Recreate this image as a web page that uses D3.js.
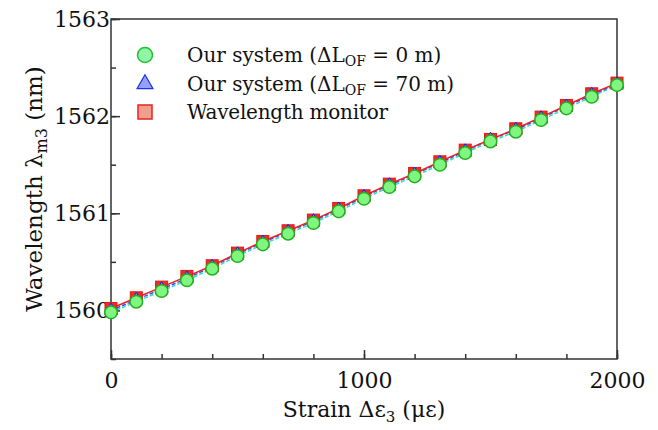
<!DOCTYPE html>
<meta charset='utf-8'>
<style>
  body { margin: 0; background: #fff; }
  text { font-family: 'DejaVu Serif', serif; fill: #111; }
  .axis path, .axis line { stroke: #333; stroke-width: 1.5; fill: none; }
</style>
<body>
<script src='https://cdn.jsdelivr.net/npm/d3@7'></script>
<script>
  // strain steps (µε)
  const strain = [0, 100, 200, 300, 400, 500, 600, 700, 800, 900, 1000,
                  1100, 1200, 1300, 1400, 1500, 1600, 1700, 1800, 1900, 2000]
  // Our system, dL = 0 m
  const sys0 = [1559.98, 1560.09, 1560.20, 1560.31, 1560.43, 1560.56, 1560.68, 1560.79, 1560.90, 1561.02, 1561.15,
                1561.27, 1561.38, 1561.50, 1561.62, 1561.74, 1561.84, 1561.96, 1562.08, 1562.20, 1562.32]
  // Our system, dL = 70 m
  const sys70 = [1560.00, 1560.11, 1560.22, 1560.33, 1560.45, 1560.58, 1560.70, 1560.81, 1560.92, 1561.04, 1561.17,
                 1561.29, 1561.40, 1561.52, 1561.64, 1561.76, 1561.86, 1561.98, 1562.10, 1562.22, 1562.33]
  // wavelength monitor
  const monitor = [1560.02, 1560.13, 1560.24, 1560.35, 1560.46, 1560.59, 1560.71, 1560.82, 1560.93, 1561.05, 1561.18,
                   1561.30, 1561.41, 1561.53, 1561.65, 1561.76, 1561.87, 1561.99, 1562.11, 1562.23, 1562.34]
  const yTicks = [1560, 1561, 1562, 1563]
  const xTicks = [0, 1000, 2000]

  const margin = {top: 19, right: 41, bottom: 71, left: 111}
  const width = 658 - margin.left - margin.right
  const height = 430 - margin.top - margin.bottom

  const x = d3.scaleLinear().domain([0, 2000]).range([0, width])
  const y = d3.scaleLinear().domain([1559.5, 1563]).range([height, 0])

  const svg = d3.select('body').append('svg')
    .attr('width', 658).attr('height', 430)
  const g = svg.append('g').attr('transform', `translate(${margin.left},${margin.top})`)

  // frame
  g.append('rect').attr('width', width).attr('height', height)
    .attr('fill', 'none').attr('stroke', '#333').attr('stroke-width', 1.5)

  // minor ticks (inward)
  g.append('g').attr('class', 'axis')
    .call(d3.axisLeft(y).tickValues(d3.range(1559.5, 1563.01, 0.5)).tickSize(-5).tickFormat(''))
  g.append('g').attr('class', 'axis').attr('transform', `translate(0,${height})`)
    .call(d3.axisBottom(x).tickValues(d3.range(0, 2001, 200)).tickSize(-5).tickFormat(''))

  // major ticks
  const yAxis = g.append('g').attr('class', 'axis')
    .call(d3.axisLeft(y).tickValues(yTicks).tickSize(-9).tickFormat(d3.format('d')))
  yAxis.selectAll('text').attr('font-size', 22).attr('x', -1)
  const xAxis = g.append('g').attr('class', 'axis').attr('transform', `translate(0,${height})`)
    .call(d3.axisBottom(x).tickValues(xTicks).tickSize(-9).tickPadding(13).tickFormat(d3.format('d')))
  xAxis.selectAll('text').attr('font-size', 22)
  g.selectAll('.axis .domain').remove()

  // lines
  const line = vals => d3.line().x((d, i) => x(strain[i])).y(d => y(d))(vals)
  g.append('path').attr('d', line(sys0)).attr('fill', 'none')
    .attr('stroke', '#30e0c0').attr('stroke-width', 1.5).attr('stroke-dasharray', '4,2')
  g.append('path').attr('d', line(sys70)).attr('fill', 'none')
    .attr('stroke', '#3050ff').attr('stroke-width', 1.5).attr('stroke-dasharray', '4,2')
  g.append('path').attr('d', line(monitor)).attr('fill', 'none')
    .attr('stroke', '#ee2020').attr('stroke-width', 1.5)

  // markers
  const sq = 12
  g.selectAll('.sq').data(monitor).join('rect')
    .attr('x', (d, i) => x(strain[i]) - sq / 2).attr('y', d => y(d) - sq / 2)
    .attr('width', sq).attr('height', sq)
    .attr('fill', '#ee2a2a').attr('stroke', '#e01818').attr('stroke-width', 1)
  const tri = d3.symbol().type(d3.symbolTriangle).size(70)
  g.selectAll('.tri').data(sys70).join('path')
    .attr('d', tri).attr('transform', (d, i) => `translate(${x(strain[i])},${y(d)})`)
    .attr('fill', '#8890ff').attr('stroke', '#1020ee').attr('stroke-width', 1)
  g.selectAll('.ci').data(sys0).join('circle')
    .attr('cx', (d, i) => x(strain[i])).attr('cy', d => y(d)).attr('r', 6.3)
    .attr('fill', '#80f580').attr('stroke', '#20b020').attr('stroke-width', 1.5)

  // legend
  const leg = svg.append('g')
  leg.append('circle').attr('cx', 145).attr('cy', 55).attr('r', 7.5)
    .attr('fill', '#90f5a8').attr('stroke', '#20c030').attr('stroke-width', 1.5)
  leg.append('path').attr('d', d3.symbol().type(d3.symbolTriangle).size(110))
    .attr('transform', 'translate(145,84)')
    .attr('fill', '#98a0ff').attr('stroke', '#2030ee').attr('stroke-width', 1.2)
  leg.append('rect').attr('x', 138).attr('y', 105).attr('width', 14).attr('height', 14)
    .attr('fill', '#eea090').attr('stroke', '#ee2020').attr('stroke-width', 1.5)

  const legText = (yy, num) => {
    const t = leg.append('text').attr('x', 187).attr('y', yy).attr('font-size', 20)
    t.append('tspan').text('Our system (\u0394L')
    t.append('tspan').attr('font-size', 14).attr('dy', 4).text('OF')
    t.append('tspan').attr('dy', -4).text(` = ${num} m)`)
  }
  legText(62, 0)
  legText(91, 70)
  leg.append('text').attr('x', 187).attr('y', 119).attr('font-size', 20)
    .attr('textLength', 201).text('Wavelength monitor')

  // axis titles
  const xt = svg.append('text').attr('x', margin.left + width / 2).attr('y', 417)
    .attr('text-anchor', 'middle').attr('font-size', 22)
  xt.append('tspan').text('Strain \u0394\u03b5')
  xt.append('tspan').attr('font-size', 15).attr('dy', 5).text('3')
  xt.append('tspan').attr('dy', -5).text(' (\u03bc\u03b5)')

  const yt = svg.append('text').attr('transform', 'translate(42,189) rotate(-90)')
    .attr('text-anchor', 'middle').attr('font-size', 23)
  yt.append('tspan').text('Wavelength \u03bb')
  yt.append('tspan').attr('font-size', 16).attr('dy', 5).text('m3')
  yt.append('tspan').attr('dy', -5).text(' (nm)')
</script>
</body>
